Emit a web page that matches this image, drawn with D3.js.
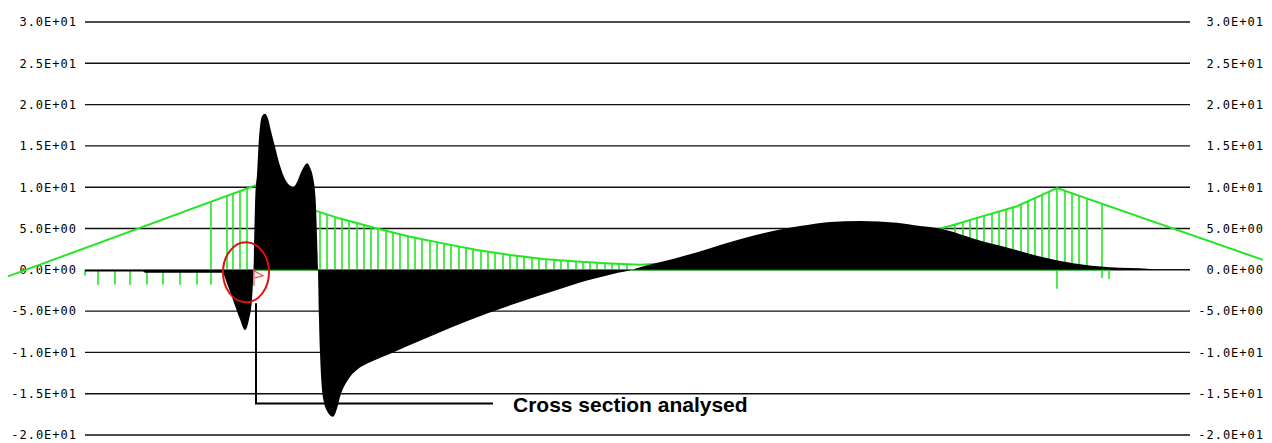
<!DOCTYPE html>
<html>
<head>
<meta charset="utf-8">
<script src="https://cdn.jsdelivr.net/npm/d3@7"></script>
<style>
  body { margin: 0; background: #fff; }
  svg { display: block; }
  .tick-label { font-family: "DejaVu Sans Mono", monospace; font-size: 12px; letter-spacing: 1px; fill: #000; }
  .note { font-family: "Liberation Sans", Arial, sans-serif; font-size: 21px; font-weight: bold; fill: #000; }
</style>
</head>
<body>
<svg width="1272" height="443"></svg>
<script>
// y axis ticks (same on both sides)
var yTicks = [30, 25, 20, 15, 10, 5, 0, -5, -10, -15, -20];
var yTickLabels = ["3.0E+01", "2.5E+01", "2.0E+01", "1.5E+01", "1.0E+01", "5.0E+00",
                   "0.0E+00", "-5.0E+00", "-1.0E+01", "-1.5E+01", "-2.0E+01"];

// result diagram along the bridge: [station, value]
var diagram = [
  [0, -0.2], [58, -0.2], [60, -0.35], [137, -0.35],
  [143, -2.0], [149, -4.0], [155, -6.0], [160, -7.3], [164, -6.0], [167, -3.5], [168.5, 0],
  [170.5, 9.5], [172, 11.5], [174, 16], [177, 18.6], [180, 18.9], [183, 18.3], [186, 16.8],
  [190, 14.9], [195, 12.6], [200, 11.0], [205, 10.2], [208, 10.0], [212, 10.6], [216, 11.8],
  [220, 12.7], [222, 12.9], [225, 12.4], [228, 11.2], [230.5, 8.8], [232, 4], [233, 0],
  [234, -6], [235, -10], [238, -15.5], [243, -17.3], [248, -17.8], [252, -16.8], [255, -15.4],
  [263, -13.3], [272, -12.1], [285, -11.2], [308, -10.0], [335, -8.6], [368, -6.9],
  [402, -5.3], [435, -3.9], [468, -2.6], [502, -1.3], [528, -0.5], [547, 0],
  [555, 0.3], [588, 1.3], [622, 2.5], [655, 3.7], [688, 4.7], [715, 5.3], [745, 5.8],
  [775, 5.9], [812, 5.7], [835, 5.3], [855, 5.0], [865, 4.7], [888, 3.8], [922, 2.7],
  [955, 1.6], [988, 0.8], [1025, 0.3], [1065, 0.1], [1070, 0]
];

// cable / stays: [station, height]
var cable = [
  [-77, -0.8], [170, 10.2],
  [232, 7.1], [255, 6.2], [292, 5.0], [325, 4.0], [358, 3.2], [392, 2.4], [425, 1.8],
  [458, 1.3], [492, 1.0], [525, 0.75], [555, 0.6], [615, 1.0], [695, 2.0], [775, 3.4],
  [855, 5.0], [865, 5.3], [898, 6.5], [932, 7.7], [952, 8.8], [972, 9.9],
  [1178, 1.2]
];

// hangers: [station, foot height]
var hangers = [
  [126, -1.8], [142, 0], [148, 0], [155, 0], [162, 0],
  [235, 0], [242, 0], [250, 0], [257, 0], [264, 0], [272, 0], [279, 0], [286, 0], [293, 0],
  [301, 0], [308, 0], [315, 0], [323, 0], [330, 0], [337, 0], [345, 0], [352, 0], [359, 0],
  [366, 0], [374, 0], [381, 0], [388, 0], [396, 0], [403, 0], [410, 0], [418, 0], [425, 0],
  [432, 0], [439, 0], [447, 0], [454, 0], [461, 0], [469, 0], [476, 0], [483, 0], [491, 0],
  [498, 0], [505, 0], [512, 0], [520, 0], [527, 0], [534, 0], [542, 0],
  [870, 0], [878, 0], [885, 0], [892, 0], [899, 0], [907, 0], [914, 0], [921, 0], [928, 0],
  [936, 0], [943, 0], [950, 0], [957, 0], [964, 0],
  [972, -2.3],
  [980, 0], [987, 0], [994, 0], [1002, 0], [1017, -1.0]
];

// short posts below the deck: [station, top, bottom]
var deckPosts = [
  [0, 0, -0.7], [13, 0, -1.8], [30, 0, -1.8], [45, 0, -1.8], [62, 0, -1.8], [78, 0, -1.8],
  [95, 0, -1.8], [112, 0, -1.8], [1024, 0.2, -1.1]
];
var deckExtent = [0, 1025];

var analysedStation = 171;   // cross section marked on the diagram

var svg = d3.select("svg");

var x = d3.scaleLinear().domain([0, 1105]).range([85, 1190]);
var y = d3.scaleLinear().domain([-20, 30]).range([435, 22]);

// grid lines and labels
svg.append("g").selectAll("line")
    .data(yTicks)
  .enter().append("line")
    .attr("x1", x(0)).attr("x2", x(1105))
    .attr("y1", function(d) { return y(d); })
    .attr("y2", function(d) { return y(d); })
    .attr("stroke", "#111")
    .attr("stroke-width", 1.4);

svg.append("g").selectAll("text")
    .data(yTicks)
  .enter().append("text")
    .attr("class", "tick-label")
    .attr("x", 77)
    .attr("y", function(d) { return y(d); })
    .attr("dy", "0.36em")
    .attr("text-anchor", "end")
    .text(function(d, i) { return yTickLabels[i]; });

svg.append("g").selectAll("text")
    .data(yTicks)
  .enter().append("text")
    .attr("class", "tick-label")
    .attr("x", 1264)
    .attr("y", function(d) { return y(d); })
    .attr("dy", "0.36em")
    .attr("text-anchor", "end")
    .text(function(d, i) { return yTickLabels[i]; });

// bridge structure (green)
var green = "#22e622";
var cableLine = d3.line()
    .x(function(d) { return x(d[0]); })
    .y(function(d) { return y(d[1]); });

var underCable = d3.area()
    .x(function(d) { return x(d[0]); })
    .y0(y(-5))
    .y1(function(d) { return y(d[1]); });

svg.append("clipPath").attr("id", "under-cable")
  .append("path")
    .attr("d", underCable(cable));

var bridge = svg.append("g").attr("stroke", green).attr("fill", "none");

bridge.append("line")
    .attr("x1", x(deckExtent[0])).attr("x2", x(deckExtent[1]))
    .attr("y1", y(0)).attr("y2", y(0))
    .attr("stroke-width", 1.5);

bridge.append("g")
    .attr("clip-path", "url(#under-cable)")
  .selectAll("line")
    .data(hangers)
  .enter().append("line")
    .attr("x1", function(d) { return x(d[0]); })
    .attr("x2", function(d) { return x(d[0]); })
    .attr("y1", function(d) { return y(d[1]); })
    .attr("y2", y(12))
    .attr("stroke-width", 1.6);

bridge.append("g").selectAll("line")
    .data(deckPosts)
  .enter().append("line")
    .attr("x1", function(d) { return x(d[0]); })
    .attr("x2", function(d) { return x(d[0]); })
    .attr("y1", function(d) { return y(d[1]); })
    .attr("y2", function(d) { return y(d[2]); })
    .attr("stroke-width", 1.6);

bridge.append("path")
    .attr("d", cableLine(cable))
    .attr("stroke-width", 2);

// diagram (black fill)
var area = d3.area()
    .x(function(d) { return x(d[0]); })
    .y0(y(0))
    .y1(function(d) { return y(d[1]); })
    .curve(d3.curveMonotoneX);

svg.append("path")
    .attr("d", area(diagram))
    .attr("fill", "#000");

// marked section
svg.append("ellipse")
    .attr("cx", x(analysedStation) - 10)
    .attr("cy", y(-0.3))
    .attr("rx", 23)
    .attr("ry", 30)
    .attr("fill", "none")
    .attr("stroke", "#e01010")
    .attr("stroke-width", 2);

var px = x(analysedStation) - 2, py = y(0);
svg.append("path")
    .attr("d", "M" + px + "," + (py - 1) + "V" + (py + 16) +
               "M" + px + "," + (py + 1) + "L" + (px + 9) + "," + (py + 6) + "L" + (px + 1) + "," + (py + 8))
    .attr("fill", "none")
    .attr("stroke", "#f04848")
    .attr("stroke-width", 1.2);

svg.append("path")
    .attr("d", "M" + x(analysedStation) + "," + (y(-0.3) + 31) +
               "V" + y(-16.2) + "H" + x(408))
    .attr("fill", "none")
    .attr("stroke", "#000")
    .attr("stroke-width", 2);

svg.append("text")
    .attr("class", "note")
    .attr("x", x(428))
    .attr("y", y(-16.2) + 8)
    .text("Cross section analysed");
</script>
</body>
</html>
